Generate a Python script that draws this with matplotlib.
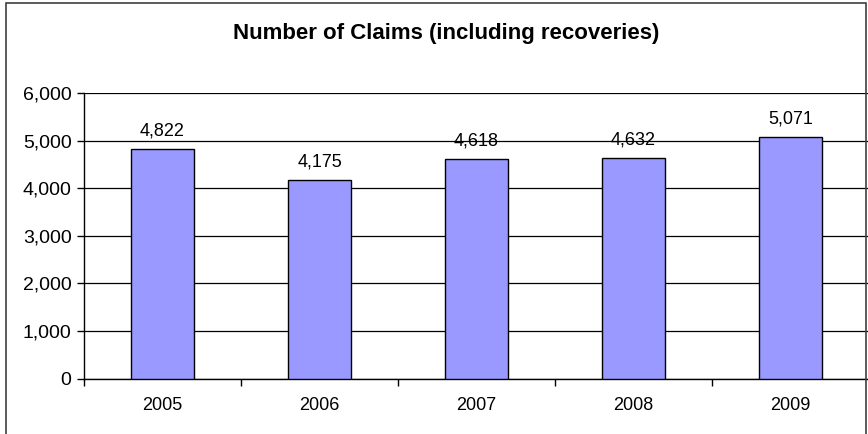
import matplotlib
matplotlib.use("Agg")
import matplotlib.pyplot as plt
from matplotlib.patches import Rectangle
from matplotlib.ticker import FuncFormatter, MultipleLocator

years = ["2005", "2006", "2007", "2008", "2009"]
claims = [4822, 4175, 4618, 4632, 5071]
title = "Number of Claims (including recoveries)"

plt.rcParams["font.family"] = ["Liberation Sans", "DejaVu Sans"]

fig = plt.figure(figsize=(8.68, 4.34), dpi=100)
fig.patch.set_facecolor("white")

# chart frame
fig.patches.append(Rectangle((6 / 868, -0.1), 860 / 868, 1.1 - 3 / 434,
                             transform=fig.transFigure, fill=False,
                             edgecolor="#404040", linewidth=1.2))

ax = fig.add_axes([84 / 868, 55.5 / 434, 785 / 868, 285.5 / 434])
x = list(range(len(years)))
bars = ax.bar(x, claims, width=0.4, color="#9999FF", edgecolor="black",
              linewidth=1.0, zorder=3)

ax.set_xlim(-0.5, len(years) - 0.5)
ax.set_ylim(0, 6000)
ax.yaxis.set_major_locator(MultipleLocator(1000))
ax.yaxis.set_major_formatter(FuncFormatter(lambda v, p: f"{int(v):,}"))
ax.grid(axis="y", color="black", linewidth=0.9, zorder=0)

# category labels centred, ticks at category boundaries
ax.set_xticks(x)
ax.set_xticklabels(years)
ax.set_xticks([i - 0.5 for i in range(len(years) + 1)], minor=True)
ax.tick_params(axis="x", which="major", length=0, pad=13, labelsize=13)
ax.tick_params(axis="x", which="minor", length=5, width=1, color="black")
ax.tick_params(axis="y", length=5, width=1, pad=4, labelsize=14)

for s in ["top", "right"]:
    ax.spines[s].set_visible(False)
ax.spines["left"].set_linewidth(1)
ax.spines["bottom"].set_linewidth(1)

for xi, v in zip(x, claims):
    ax.annotate(f"{v:,}", (xi, v), xytext=(0, 7), textcoords="offset points",
                ha="center", va="bottom", fontsize=13)

fig.text(446 / 868, 1 - 33 / 434, title, ha="center", va="center",
         fontsize=16, fontweight="bold")

fig.savefig("out.png", dpi=100)
